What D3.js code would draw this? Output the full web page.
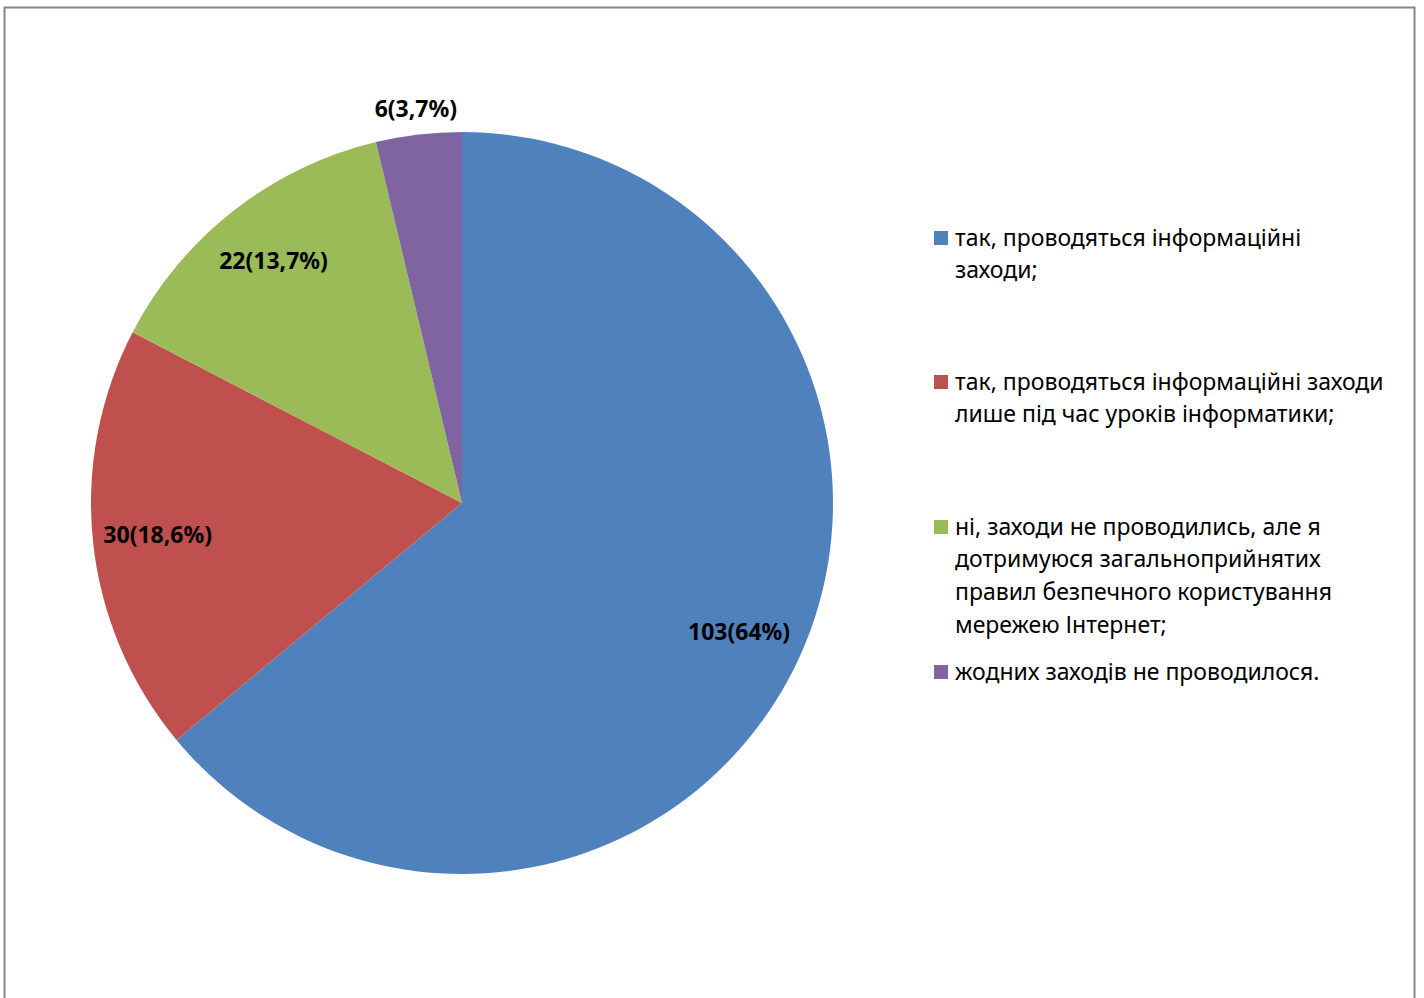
<!DOCTYPE html>
<html>
<head>
<meta charset="utf-8">
<script src="https://cdn.jsdelivr.net/npm/d3@7"></script>
<style>
  body { margin: 0; background: #fff; }
  svg { display: block; }
  text { font-family: "Noto Sans", "Open Sans", sans-serif; fill: #000; }
</style>
</head>
<body>
<svg width="1424" height="998"></svg>
<script>
var categories = [
  ["так, проводяться інформаційні", "заходи;"],
  ["так, проводяться інформаційні заходи", "лише під час уроків інформатики;"],
  ["ні, заходи не проводились, але я", "дотримуюся загальноприйнятих", "правил безпечного користування", "мережею Інтернет;"],
  ["жодних заходів не проводилося."]
];
var values = [103, 30, 22, 6];
var colors = ["#4F81BD", "#C0504D", "#9BBB59", "#8064A2"];

var svg = d3.select("svg"),
    width = +svg.attr("width"),
    height = +svg.attr("height");

// chart frame (bottom edge runs off the picture)
svg.append("rect")
    .attr("x", 4.5).attr("y", 7.5)
    .attr("width", 1410).attr("height", 1000)
    .attr("fill", "none")
    .attr("stroke", "#868686")
    .attr("stroke-width", 2);

var cx = 462, cy = 503, radius = 371;
var total = d3.sum(values);

var pie = d3.pie().sort(null).value(function(d) { return d; });
var arcs = pie(values);

var arc = d3.arc().innerRadius(0).outerRadius(radius);
var inLabel = d3.arc().innerRadius(radius * 0.825).outerRadius(radius * 0.825);
var outLabel = d3.arc().innerRadius(radius * 1.065).outerRadius(radius * 1.065);

var g = svg.append("g").attr("transform", "translate(" + cx + "," + cy + ")");

g.selectAll("path")
  .data(arcs)
  .enter().append("path")
    .attr("d", arc)
    .attr("fill", function(d, i) { return colors[i]; });

var fmt = d3.format(".1~f");

g.selectAll("text.lbl")
  .data(arcs)
  .enter().append("text")
    .attr("class", "lbl")
    .attr("transform", function(d) {
      var small = (d.endAngle - d.startAngle) < 0.3;
      return "translate(" + (small ? outLabel : inLabel).centroid(d) + ")";
    })
    .attr("text-anchor", "middle")
    .attr("dy", "0.3em")
    .style("font-size", "23px")
    .style("font-weight", "bold")
    .text(function(d) {
      return d.data + "(" + fmt(d.data / total * 100).replace(".", ",") + "%)";
    });

// legend
var legendY = [238, 382, 527, 672];
var lineH = 32.7;
var legend = svg.append("g");

var item = legend.selectAll("g")
  .data(categories)
  .enter().append("g")
    .attr("transform", function(d, i) { return "translate(934," + legendY[i] + ")"; });

item.append("rect")
    .attr("x", 0).attr("y", -7)
    .attr("width", 14).attr("height", 14)
    .attr("fill", function(d, i) { return colors[i]; });

item.each(function(lines) {
  var t = d3.select(this).append("text")
      .attr("x", 21)
      .style("font-size", "23px");
  lines.forEach(function(s, j) {
    t.append("tspan")
      .attr("x", 21)
      .attr("y", j * lineH)
      .attr("dy", "0.33em")
      .text(s);
  });
});
</script>
</body>
</html>
